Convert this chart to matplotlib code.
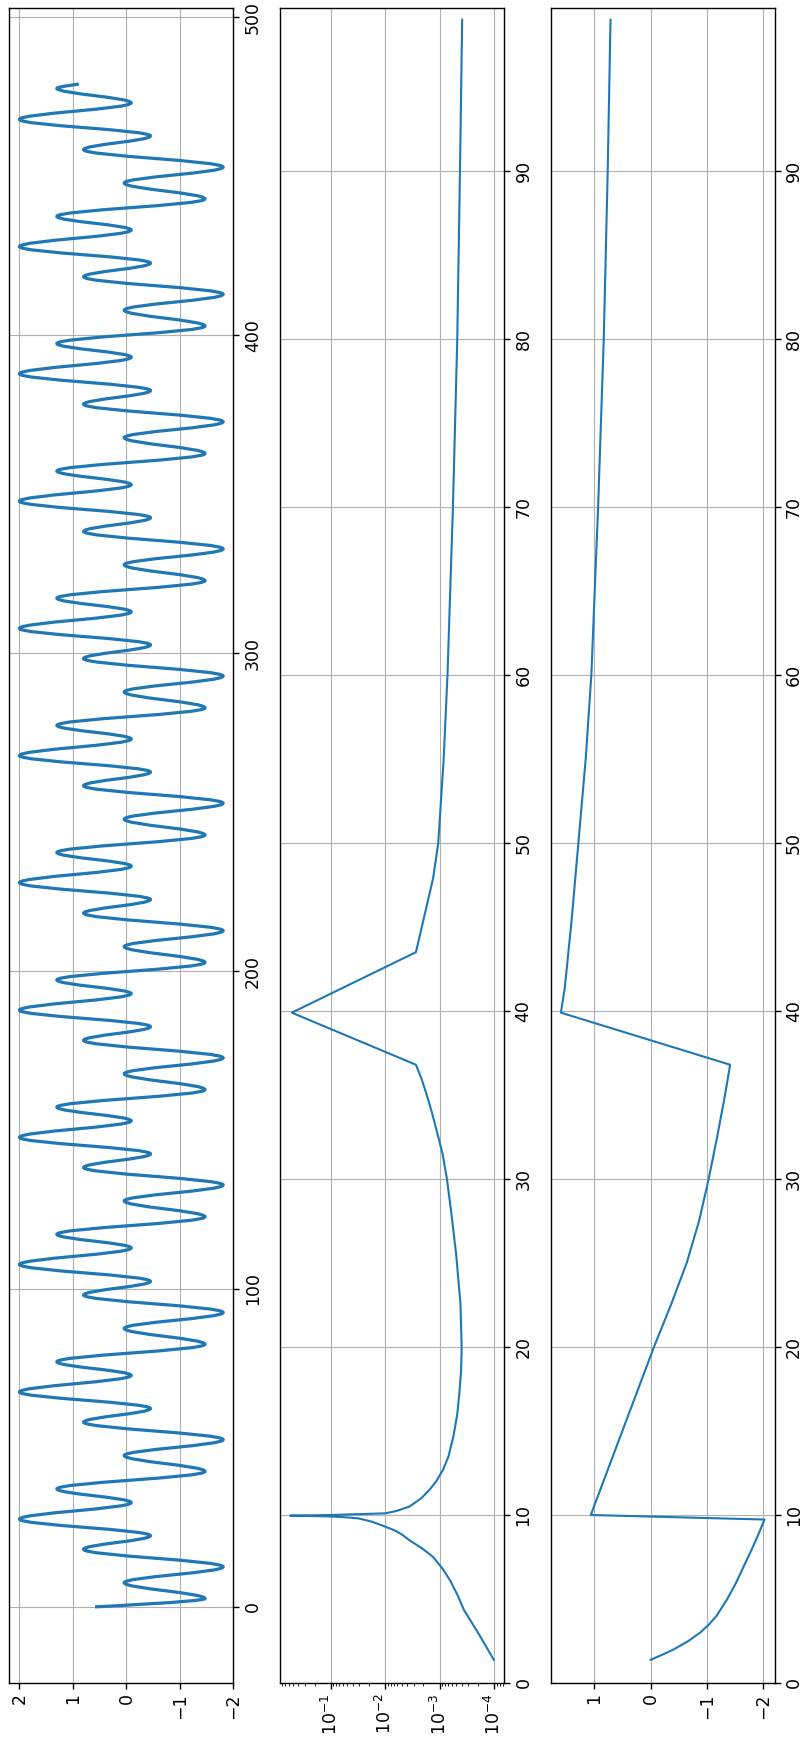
import numpy as np
import matplotlib
matplotlib.use("Agg")
from matplotlib import pyplot as plt
from matplotlib.path import Path
from matplotlib.patches import PathPatch
import matplotlib.ticker as plticker

# signal: turning points (sample index, amplitude), plus first and last sample
sig_x = [0.0, 2.6, 7.6, 12.6, 18.1, 22.4,
         27.6, 32.8, 37.1, 42.6, 47.6, 52.6, 58.1, 62.4,
         67.6, 72.8, 77.1, 82.6, 87.6, 92.6, 98.1, 102.4,
         107.7, 112.9, 117.2, 122.7, 127.7, 132.7, 138.2, 142.5,
         147.7, 152.9, 157.2, 162.7, 167.7, 172.7, 178.2, 182.5,
         187.7, 192.9, 197.2, 202.7, 207.7, 212.7, 218.2, 222.5,
         227.8, 233.0, 237.3, 242.8, 247.8, 252.8, 258.3, 262.6,
         267.8, 273.0, 277.3, 282.8, 287.8, 292.8, 298.3, 302.6,
         307.8, 313.0, 317.3, 322.8, 327.8, 332.8, 338.3, 342.6,
         347.8, 353.0, 357.3, 362.8, 367.8, 372.8, 378.3, 382.6,
         387.9, 393.1, 397.4, 402.9, 407.9, 412.9, 418.4, 422.7,
         427.9, 433.1, 437.4, 442.9, 447.9, 452.9, 458.4, 462.7,
         467.9, 473.1, 477.7, 479.0]
sig_y = [0.585, -1.47, 0.04, -1.81, 0.80, -0.45,
         2.0, -0.09, 1.3, -1.47, 0.04, -1.81, 0.80, -0.45,
         2.0, -0.09, 1.3, -1.47, 0.04, -1.81, 0.80, -0.45,
         2.0, -0.09, 1.3, -1.47, 0.04, -1.81, 0.80, -0.45,
         2.0, -0.09, 1.3, -1.47, 0.04, -1.81, 0.80, -0.45,
         2.0, -0.09, 1.3, -1.47, 0.04, -1.81, 0.80, -0.45,
         2.0, -0.09, 1.3, -1.47, 0.04, -1.81, 0.80, -0.45,
         2.0, -0.09, 1.3, -1.47, 0.04, -1.81, 0.80, -0.45,
         2.0, -0.09, 1.3, -1.47, 0.04, -1.81, 0.80, -0.45,
         2.0, -0.09, 1.3, -1.47, 0.04, -1.81, 0.80, -0.45,
         2.0, -0.09, 1.3, -1.47, 0.04, -1.81, 0.80, -0.45,
         2.0, -0.09, 1.3, -1.47, 0.04, -1.81, 0.80, -0.45,
         2.0, -0.09, 1.3, 0.89]

# error per iteration (log panel)
err_x = [1.38, 2.9, 4.36, 5.2, 6.1, 6.8, 7.5, 8.0, 8.5, 8.8, 9.0, 9.15,
         9.3, 9.45, 9.6, 9.7, 9.8, 9.87, 9.92, 9.96,
         10.0, 10.05, 10.1, 10.2, 10.3, 10.5, 11.0, 11.5, 12.0, 12.7,
         13.5, 14.7, 16.0, 17.3, 18.6, 20.0, 22.5, 25.5, 28.0, 30.0,
         31.5, 32.9, 34.0, 35.1, 36.0, 36.8, 39.9, 43.5, 47.9, 50.0,
         55.0, 60.0, 70.0, 80.0, 90.0, 99.0]
err_val = [1.02e-4, 1.91e-4, 3.63e-4, 4.68e-4, 6.46e-4, 8.91e-4, 1.33e-3,
           2.09e-3, 3.63e-3, 4.79e-3, 6.03e-3, 7.59e-3,
           1.0e-2, 1.32e-2, 1.78e-2, 2.34e-2, 3.16e-2, 5.62e-2, 0.126, 0.562,
           0.1, 3.16e-2, 1.0e-2, 7.08e-3, 5.50e-3, 3.63e-3, 2.19e-3,
           1.55e-3, 1.17e-3, 8.71e-4,
           6.92e-4, 5.62e-4, 4.79e-4, 4.37e-4, 4.07e-4, 3.98e-4, 4.17e-4,
           5.01e-4, 6.17e-4, 7.41e-4,
           8.91e-4, 1.15e-3, 1.41e-3, 1.78e-3, 2.19e-3, 2.75e-3, 0.525,
           2.75e-3, 1.33e-3, 1.07e-3,
           8.51e-4, 7.24e-4, 5.75e-4, 4.79e-4, 4.27e-4, 3.89e-4]

# correction per iteration
corr_x = [1.38, 1.7, 2.0, 2.5, 3.0, 3.5, 4.0, 5.0, 6.0, 7.0, 8.0, 9.0, 9.73,
          10.0, 15.0, 20.0, 22.5, 25.0, 27.5, 30.0, 32.5, 35.0, 36.8,
          39.9, 41.4, 45.4, 50.0, 55.0, 60.0, 70.0, 80.0, 90.0, 99.0]
corr_val = [0.0, -0.22, -0.41, -0.67, -0.88, -1.04, -1.17, -1.36, -1.52,
            -1.66, -1.80, -1.93, -2.02,
            1.06, 0.50, -0.06, -0.36, -0.64, -0.86, -1.03, -1.18, -1.32, -1.41,
            1.59, 1.52, 1.40, 1.28, 1.15, 1.05, 0.93, 0.83, 0.76, 0.71]

sig_ticks = [0, 100, 200, 300, 400, 500]
iter_ticks = list(range(0, 100, 10))

LINE = '#1f77b4'


def smoothPath(xs, ys, k=0.36):
    # cubic segments, flat at every turning point; axes are swapped
    verts = [(ys[0], xs[0])]
    codes = [Path.MOVETO]
    n = len(xs)
    for i in range(n - 1):
        x0, x1 = xs[i], xs[i + 1]
        h = k * (x1 - x0)
        c0 = (ys[i], x0 + h) if i > 0 else (ys[i], x0)
        c1 = (ys[i + 1], x1 - h) if i + 1 < n - 1 else (ys[i + 1], x1)
        verts += [c0, c1, (ys[i + 1], x1)]
        codes += [Path.CURVE4] * 3
    return Path(verts, codes)


def configureAxis(ax):
    ax.grid(True, color='#b0b0b0', linewidth=0.8)
    ax.set_axisbelow(True)
    ax.yaxis.tick_right()
    ax.tick_params(axis='both', labelsize=12.5, labelrotation=90,
                   width=1.0, length=4)
    for s in ax.spines.values():
        s.set_linewidth(1.0)


fig = plt.figure(figsize=(8.07, 17.53), dpi=100)
bottom = 70 / 1753
height = 1675 / 1753
w = 224 / 807
ax1 = fig.add_axes([9.3 / 807, bottom, w, height])
ax2 = fig.add_axes([280 / 807, bottom, w, height])
ax3 = fig.add_axes([550.7 / 807, bottom, w, height])

# signal panel
ax1.add_patch(PathPatch(smoothPath(sig_x, sig_y), fill=False,
                        edgecolor=LINE, linewidth=2.3))
lo, hi = min(sig_y), max(sig_y)
pad = 0.05 * (hi - lo)
ax1.set_xlim(hi + pad, lo - pad)
pad = 0.05 * (sig_x[-1] - sig_x[0])
ax1.set_ylim(sig_x[0] - pad, sig_x[-1] + pad)
ax1.set_yticks(sig_ticks)
ax1.xaxis.set_major_locator(plticker.MultipleLocator(1))
configureAxis(ax1)

# log panel
ax2.plot(err_val, err_x, color=LINE, linewidth=1.5)
ax2.set_xscale('log')
ax2.invert_xaxis()
ax2.set_ylim(0, 99.7)
ax2.set_yticks(iter_ticks)
configureAxis(ax2)

# correction panel
ax3.plot(corr_val, corr_x, color=LINE, linewidth=1.5)
ax3.invert_xaxis()
ax3.set_ylim(0, 99.7)
ax3.set_yticks(iter_ticks)
ax3.xaxis.set_major_locator(plticker.MultipleLocator(1))
configureAxis(ax3)

for ax in (ax1, ax2, ax3):
    plt.setp(ax.get_yticklabels(), va='center')

fig.savefig('out.png', dpi=100)
